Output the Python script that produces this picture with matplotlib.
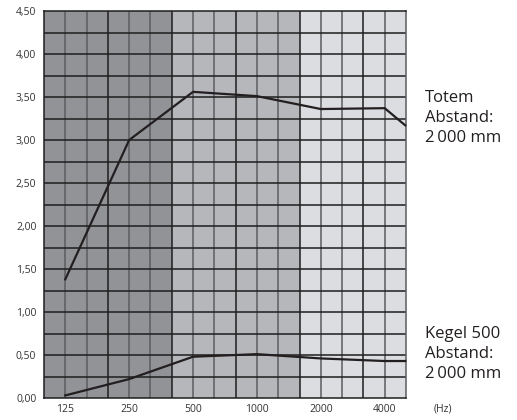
import numpy as np
import matplotlib
matplotlib.use('Agg')
import matplotlib.pyplot as plt

plt.rcParams['font.family'] = ['Open Sans', 'DejaVu Sans']

# Frequencies (Hz) and values
freqs = [125, 250, 500, 1000, 2000, 4000, 5000]
totem = [1.38, 3.00, 3.56, 3.51, 3.36, 3.37, 3.17]
kegel = [0.03, 0.22, 0.48, 0.51, 0.46, 0.43, 0.43]

tick_freqs = [125, 250, 500, 1000, 2000, 4000]
tick_labels = ['125', '250', '500', '1000', '2000', '4000']
y_ticks = np.arange(0, 4.51, 0.5)

# grid: three cells per octave, 17 columns, left edge one cell below 125 Hz
def col(k):
    return 125 * 2 ** ((k - 1) / 3)

fig = plt.figure(figsize=(5.17, 4.2), dpi=100)
ax = fig.add_axes([44 / 517, 22 / 420, 362 / 517, 387 / 420])
ax.set_xscale('log')
ax.set_xlim(col(0), col(17))
ax.set_ylim(0, 4.5)

# shaded bands
ax.axvspan(col(0), col(6), color='#929396', lw=0, zorder=0)
ax.axvspan(col(6), col(12), color='#b6b7ba', lw=0, zorder=0)
ax.axvspan(col(12), col(17), color='#dcdde0', lw=0, zorder=0)

# grid lines
for k in range(1, 17):
    c = '#1e1e1e' if k % 3 == 0 else '#5c5d60'
    ax.axvline(col(k), color=c, lw=1.1, zorder=1)
for yv in np.arange(0.25, 4.5, 0.25):
    ax.axhline(yv, color='#1e1e1e', lw=1.1, zorder=1)

ax.plot(freqs, totem, color='#231f20', lw=1.6, zorder=3, clip_on=False)
ax.plot(freqs, kegel, color='#231f20', lw=1.6, zorder=3, clip_on=False)

ax.xaxis.set_minor_locator(matplotlib.ticker.NullLocator())
ax.set_xticks(tick_freqs)
ax.set_xticklabels(tick_labels)
ax.set_yticks(y_ticks)
ax.set_yticklabels([('%.2f' % v).replace('.', ',') for v in y_ticks])
ax.tick_params(length=0, labelsize=7.5, colors='#333333')
ax.tick_params(axis='y', pad=5.5)
ax.tick_params(axis='x', pad=4)

for side in ['left', 'top', 'bottom']:
    ax.spines[side].set_color('#1e1e1e')
    ax.spines[side].set_linewidth(1.1)
ax.spines['right'].set_color('#5c5d60')
ax.spines['right'].set_linewidth(1.1)

ax.text(1.075, -0.029, '(Hz)', transform=ax.transAxes, fontsize=7.5,
        color='#333333', ha='left', va='center')

ax.text(1.052, 0.7235, 'Totem\nAbstand:\n2\u2009000 mm', transform=ax.transAxes,
        fontsize=12, color='#231f20', ha='left', va='center', linespacing=1.3)
ax.text(1.052, 0.1137, 'Kegel 500\nAbstand:\n2\u2009000 mm', transform=ax.transAxes,
        fontsize=12, color='#231f20', ha='left', va='center', linespacing=1.3)

fig.savefig('out.png', dpi=100)
